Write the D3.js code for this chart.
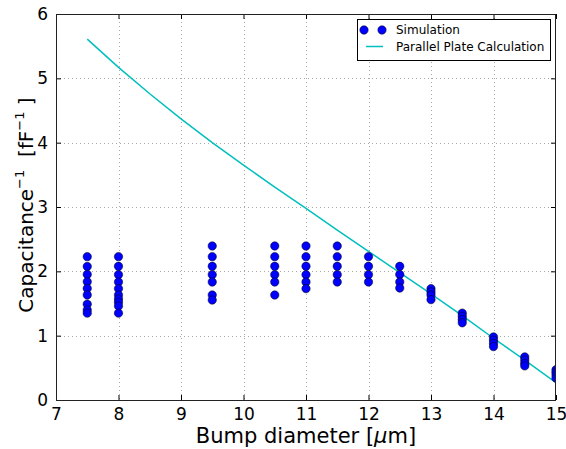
<!DOCTYPE html>
<html><head><meta charset="utf-8">
<script src="https://cdn.jsdelivr.net/npm/d3@7"></script>
<style>
html,body{margin:0;padding:0;background:#fff;}
text{font-family:"DejaVu Sans",sans-serif;fill:#000;}
</style></head>
<body><svg id="c" width="566" height="449"></svg>
<script>
// Simulation data: bump diameters and 1/C values per diameter
const simDiameters = [7.5, 8, 9.5, 10.5, 11, 11.5, 12, 12.5, 13, 13.5, 14, 14.5, 15];
const simValues = [
  [2.228, 2.075, 1.952, 1.838, 1.734, 1.633, 1.49, 1.40, 1.35],
  [2.228, 2.078, 1.948, 1.834, 1.731, 1.632, 1.57, 1.52, 1.46, 1.35],
  [2.394, 2.228, 2.078, 1.948, 1.834, 1.632, 1.554],
  [2.394, 2.228, 2.078, 1.948, 1.834, 1.632],
  [2.394, 2.228, 2.078, 1.948, 1.834, 1.731],
  [2.394, 2.228, 2.078, 1.948, 1.834],
  [2.228, 2.078, 1.948, 1.834],
  [2.078, 1.95, 1.834, 1.74],
  [1.731, 1.68, 1.632, 1.56],
  [1.35, 1.30, 1.25, 1.20],
  [0.98, 0.93, 0.88, 0.83],
  [0.67, 0.62, 0.57, 0.53],
  [0.47, 0.43, 0.39, 0.34]
];
// Parallel plate calculation curve
const calcDiameters = [7.5, 8, 8.5, 9, 9.5, 10, 10.5, 11, 11.5, 12, 12.5, 13, 13.5, 14, 14.5, 15];
const calcValues = [5.61, 5.17, 4.76, 4.37, 4.00, 3.65, 3.31, 2.98, 2.64, 2.31, 1.98, 1.65, 1.31, 0.96, 0.62, 0.27];
const xTicks = [7, 8, 9, 10, 11, 12, 13, 14, 15];
const yTicks = [0, 1, 2, 3, 4, 5, 6];

const svg = d3.select("#c");
const L = 56, R = 556, T = 14, B = 400;
const x = d3.scaleLinear().domain([7, 15]).range([L, R]);
const y = d3.scaleLinear().domain([0, 6]).range([B, T]);

svg.append("defs").append("clipPath").attr("id", "clip")
  .append("rect").attr("x", L).attr("y", T).attr("width", R - L).attr("height", B - T);

// grid
const grid = svg.append("g").attr("stroke", "#a8a8a8").attr("stroke-width", 1).attr("stroke-dasharray", "1,3");
grid.selectAll(".gx").data(xTicks.slice(1, -1)).join("line")
  .attr("x1", d => Math.round(x(d)) + 0.5).attr("x2", d => Math.round(x(d)) + 0.5).attr("y1", T).attr("y2", B);
grid.selectAll(".gy").data(yTicks.slice(1, -1)).join("line")
  .attr("y1", d => Math.round(y(d)) + 0.5).attr("y2", d => Math.round(y(d)) + 0.5).attr("x1", L).attr("x2", R);

// line
const plot = svg.append("g").attr("clip-path", "url(#clip)");
plot.append("path")
  .datum(calcDiameters.map((d, i) => [d, calcValues[i]]))
  .attr("fill", "none").attr("stroke", "#00bfbf").attr("stroke-width", 1.5)
  .attr("d", d3.line().x(d => x(d[0])).y(d => y(d[1])));

// points
const pts = [];
simDiameters.forEach((d, i) => simValues[i].forEach(v => pts.push([d, v])));
plot.selectAll("circle.pt").data(pts).join("circle")
  .attr("cx", d => x(d[0])).attr("cy", d => y(d[1])).attr("r", 4.2)
  .attr("fill", "#0000ff").attr("stroke", "#000").attr("stroke-width", 0.5);

// axes with inward ticks (all sides)
const fmt = d3.format("d");
const axB = d3.axisBottom(x).tickValues(xTicks).tickFormat(fmt).tickSizeInner(-5).tickSizeOuter(0).tickPadding(8);
const axT = d3.axisTop(x).tickValues(xTicks).tickSizeInner(-5).tickSizeOuter(0).tickFormat("");
const axLf = d3.axisLeft(y).tickValues(yTicks).tickFormat(fmt).tickSizeInner(-5).tickSizeOuter(0).tickPadding(8);
const axRt = d3.axisRight(y).tickValues(yTicks).tickSizeInner(-5).tickSizeOuter(0).tickFormat("");
function style(g) {
  g.select(".domain").remove();
  g.selectAll("line").attr("stroke", "#000");
  g.selectAll("text").style("font-size", "17px").style("font-family", "DejaVu Sans");
}
svg.append("g").attr("transform", `translate(0,${B})`).call(axB).call(style);
svg.append("g").attr("transform", `translate(0,${T})`).call(axT).call(style);
svg.append("g").attr("transform", `translate(${L},0)`).call(axLf).call(style);
svg.append("g").attr("transform", `translate(${R},0)`).call(axRt).call(style);

// frame
svg.append("rect").attr("x", L + 0.5).attr("y", T + 0.5).attr("width", R - L - 1).attr("height", B - T)
  .attr("fill", "none").attr("stroke", "#222").attr("stroke-width", 1);

// axis labels
const xl = svg.append("text").attr("x", (L + R) / 2).attr("y", 443).attr("text-anchor", "middle").style("font-size", "21px");
xl.append("tspan").text("Bump diameter [");
xl.append("tspan").style("font-style", "italic").text("μ");
xl.append("tspan").text("m]");

const yl = svg.append("text").attr("transform", "translate(33,205) rotate(-90)").attr("text-anchor", "middle")
  .attr("xml:space", "preserve").style("font-size", "20px");
yl.append("tspan").text("Capacitance");
yl.append("tspan").attr("dy", -9).style("font-size", "13px").text("−1");
yl.append("tspan").attr("dy", 9).text("  [fF");
yl.append("tspan").attr("dy", -9).style("font-size", "13px").text("−1");
yl.append("tspan").attr("dy", 9).text(" ]");

// legend
const lg = svg.append("g");
lg.append("rect").attr("x", 357.5).attr("y", 19.5).attr("width", 193).attr("height", 41)
  .attr("fill", "#fff").attr("stroke", "#000").attr("stroke-width", 1);
lg.selectAll("circle").data([364, 382]).join("circle").attr("cx", d => d).attr("cy", 30).attr("r", 4.2)
  .attr("fill", "#0000ff").attr("stroke", "#000").attr("stroke-width", 0.5);
lg.append("text").attr("x", 396).attr("y", 34).style("font-size", "12px").text("Simulation");
lg.append("line").attr("x1", 366).attr("x2", 383).attr("y1", 46.5).attr("y2", 46.5).attr("stroke", "#00bfbf").attr("stroke-width", 1.5);
lg.append("text").attr("x", 396).attr("y", 51).style("font-size", "12px").text("Parallel Plate Calculation");
</script></body></html>
